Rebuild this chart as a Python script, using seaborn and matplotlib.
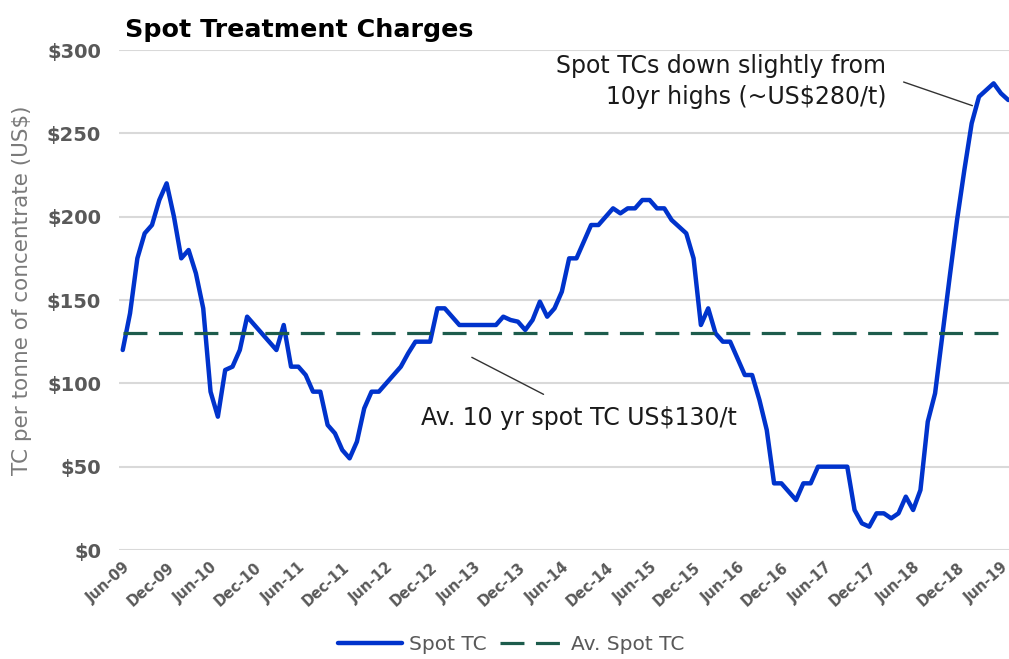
import pandas as pd
import seaborn as sns
import matplotlib.pyplot as plt

# monthly spot TC, Jun-09 .. Jul-19 (US$/t)
spot_tc = [
    120, 142, 175, 190, 195, 210, 220, 200, 175, 180,
    166, 145, 95, 80, 108, 110, 120, 140, 135, 130,
    125, 120, 135, 110, 110, 105, 95, 95, 75, 70,
    60, 55, 65, 85, 95, 95, 100, 105, 110, 118,
    125, 125, 125, 145, 145, 140, 135, 135, 135, 135,
    135, 135, 140, 138, 137, 132, 138, 149, 140, 145,
    155, 175, 175, 185, 195, 195, 200, 205, 202, 205,
    205, 210, 210, 205, 205, 198, 194, 190, 175, 135,
    145, 130, 125, 125, 115, 105, 105, 90, 72, 40,
    40, 35, 30, 40, 40, 50, 50, 50, 50, 50,
    24, 16, 14, 22, 22, 19, 22, 32, 24, 36,
    77, 94, 129, 164, 198, 228, 256, 272, 276, 280,
    274, 270,
]
av_spot_tc = 130

tick_labels = [
    "Jun-09", "Dec-09", "Jun-10", "Dec-10", "Jun-11", "Dec-11", "Jun-12",
    "Dec-12", "Jun-13", "Dec-13", "Jun-14", "Dec-14", "Jun-15", "Dec-15",
    "Jun-16", "Dec-16", "Jun-17", "Dec-17", "Jun-18", "Dec-18", "Jun-19",
]
y_ticks = [0, 50, 100, 150, 200, 250, 300]

df = pd.DataFrame({"month": range(len(spot_tc)), "Spot TC": spot_tc})
df["Av. Spot TC"] = av_spot_tc

sns.set_style("white")
plt.rcParams['font.family'] = ['DejaVu Sans']

fig = plt.figure(figsize=(10.09, 6.59), dpi=100)
ax = fig.add_axes([0.118, 0.1654, 0.882, 0.7587])

sns.lineplot(data=df, x="month", y="Spot TC", color="#0033cc", linewidth=3.2,
             ax=ax, label="Spot TC")
sns.lineplot(data=df, x="month", y="Av. Spot TC", color="#1d5c4c", linewidth=2.3,
             ax=ax, label="Av. Spot TC")
ax.lines[1].set_dashes((7.5, 3.6))

ax.set_xlim(-0.5, 121.1)
ax.set_ylim(0, 300)
ax.set_yticks(y_ticks)
ax.set_yticklabels([f"${v}" for v in y_ticks], fontsize=14, fontweight="bold",
                   color="#595959")
ax.set_xticks(range(0, 6 * len(tick_labels), 6))
ax.set_xticklabels(tick_labels, rotation=42, ha="right", rotation_mode="anchor",
                   fontsize=10.5, fontweight="bold", color="#595959")
ax.tick_params(axis="x", length=0, pad=7)
ax.tick_params(axis="y", length=0, pad=13)
ax.yaxis.grid(True, color="#d9d9d9", linewidth=1.5)
ax.set_axisbelow(True)
for s in ax.spines.values():
    s.set_visible(False)

ax.set_xlabel("")
ax.set_ylabel("TC per tonne of concentrate (US$)", fontsize=15.5, color="#7a7a7a")
ax.yaxis.set_label_coords(-0.098, 0.52)

fig.text(0.124, 0.954, "Spot Treatment Charges", fontsize=18.3, fontweight="bold",
         color="black", va="center", ha="left")

ax.text(104.3, 281, "Spot TCs down slightly from\n10yr highs (~US$280/t)",
        ha="right", va="center", fontsize=17, color="#1a1a1a", linespacing=1.4)
ax.annotate("", xy=(116.1, 266.6), xytext=(106.7, 280.8),
            arrowprops=dict(arrowstyle="-", color="#333333", lw=1, shrinkA=0, shrinkB=0))
ax.text(62.4, 79.2, "Av. 10 yr spot TC US$130/t", ha="center", va="center",
        fontsize=17, color="#1a1a1a")
ax.annotate("", xy=(57.5, 93.4), xytext=(47.7, 115.6),
            arrowprops=dict(arrowstyle="-", color="#333333", lw=1, shrinkA=0, shrinkB=0))

ax.legend(loc="center", bbox_to_anchor=(0.4405, -0.19), ncol=2, frameon=False,
          fontsize=14.5, labelcolor="#595959", handlelength=3.2, columnspacing=0.7,
          handletextpad=0.3)

fig.savefig("out.png", dpi=100)
